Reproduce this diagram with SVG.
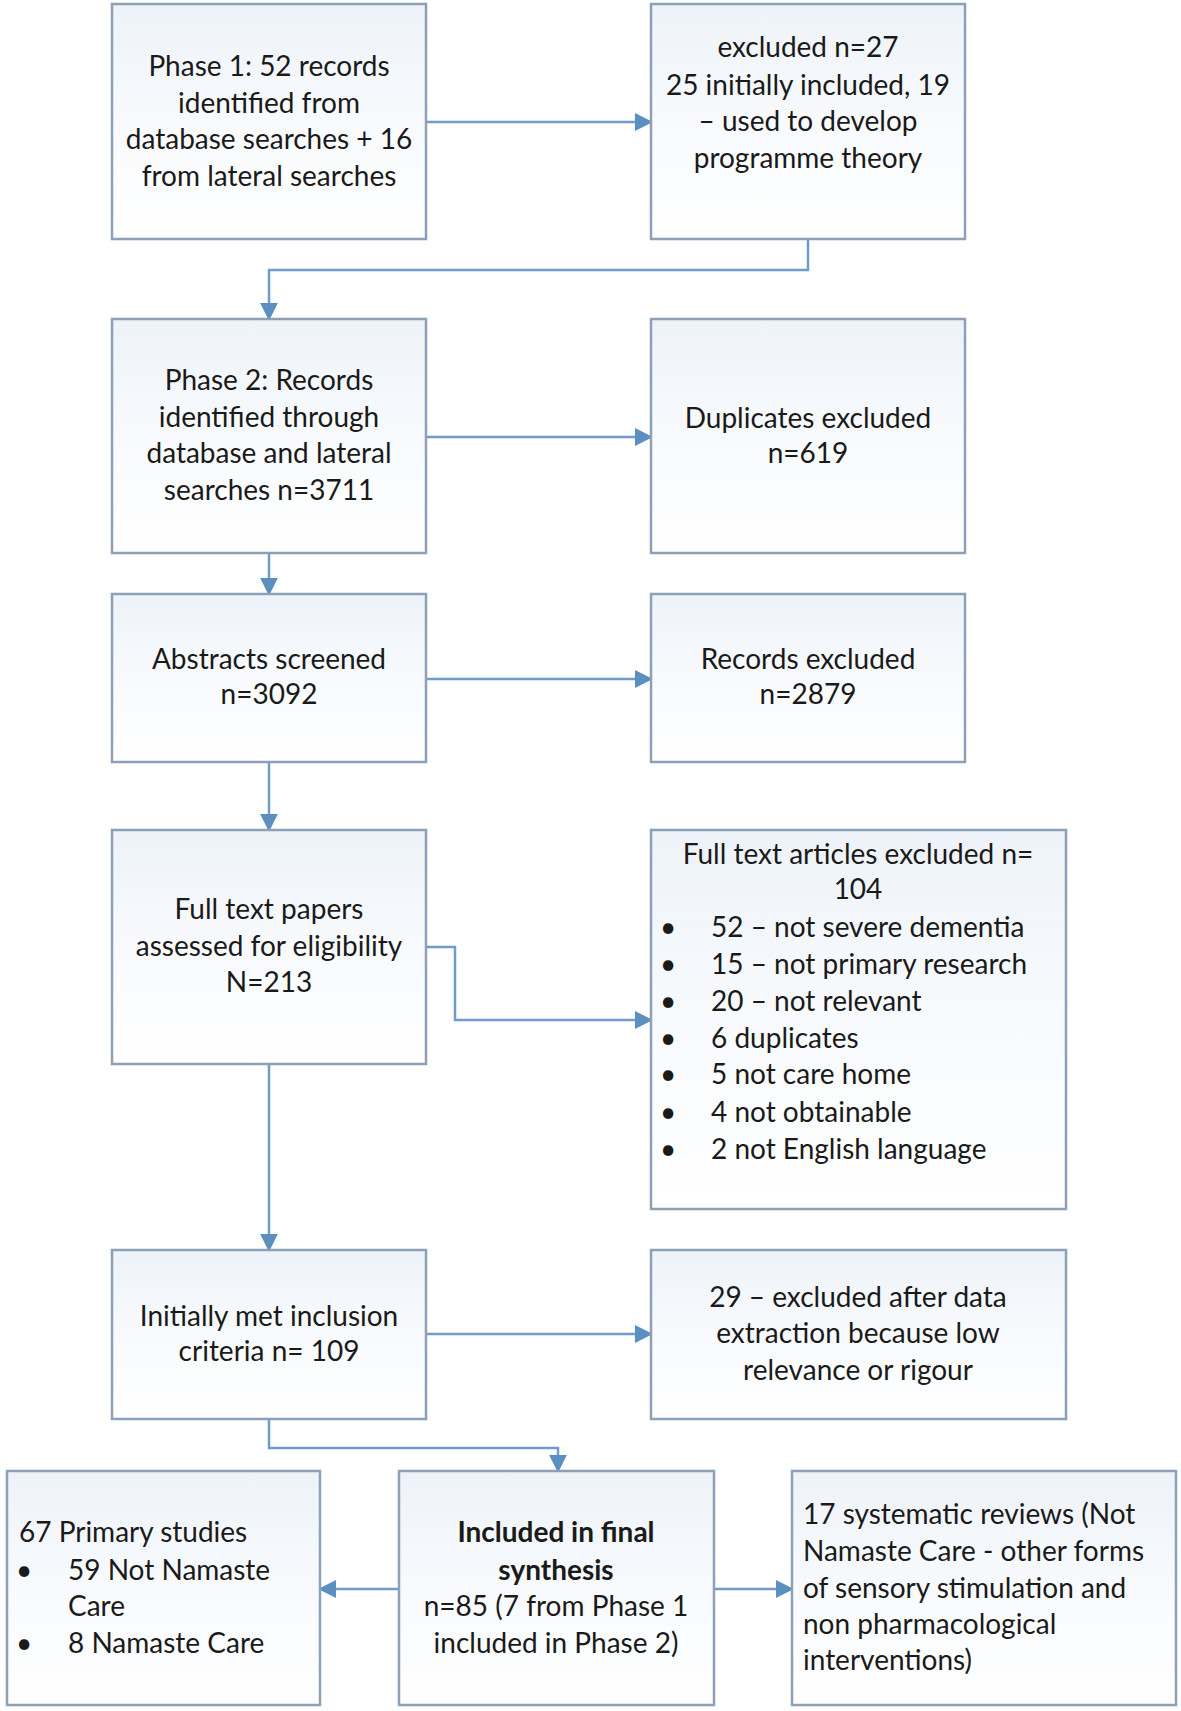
<svg xmlns="http://www.w3.org/2000/svg" width="1181" height="1711" viewBox="0 0 1181 1711">
<defs>
<linearGradient id="g" x1="0" y1="0" x2="0" y2="1">
<stop offset="0" stop-color="#eef3f9"/>
<stop offset="0.5" stop-color="#f8fafd"/>
<stop offset="1" stop-color="#ffffff"/>
</linearGradient>
<marker id="a" viewBox="0 0 10 10" refX="9" refY="5" markerWidth="18" markerHeight="18" markerUnits="userSpaceOnUse" orient="auto">
<path d="M0,0 L10,5 L0,10 z" fill="#5b8fc0"/>
</marker>
</defs>
<style>
.box{fill:url(#g);stroke:#8ca1b8;stroke-width:2.5}
.t{font-family:Lato,"Liberation Sans",sans-serif;font-size:28px;fill:#1a1a1a}
.c{text-anchor:middle}
.b{font-weight:bold}
.con{fill:none;stroke:#6f9ccb;stroke-width:2.5;marker-end:url(#a)}
</style>
<rect width="1181" height="1711" fill="#ffffff"/>
<g id="connectors">
<path class="con" d="M426,122 H651"/>
<path class="con" d="M808,239 V270 H269 V319"/>
<path class="con" d="M426,437 H651"/>
<path class="con" d="M269,553 V594"/>
<path class="con" d="M426,679 H651"/>
<path class="con" d="M269,762 V830"/>
<path class="con" d="M426,947 H455 V1020 H651"/>
<path class="con" d="M269,1064 V1250"/>
<path class="con" d="M426,1334 H651"/>
<path class="con" d="M269,1419 V1448 H558 V1471"/>
<path class="con" d="M399,1589 H320"/>
<path class="con" d="M714,1589 H792"/>
</g>
<g id="n1"><rect class="box" x="112" y="4" width="314" height="235"/>
<text class="t c"><tspan x="269" y="76">Phase 1: 52 records</tspan><tspan x="269" y="113">identified from</tspan><tspan x="269" y="149">database searches + 16</tspan><tspan x="269" y="186">from lateral searches</tspan></text></g>
<g id="n2"><rect class="box" x="651" y="4" width="314" height="235"/>
<text class="t c"><tspan x="808" y="57">excluded n=27</tspan><tspan x="808" y="95">25 initially included, 19</tspan><tspan x="808" y="131">– used to develop</tspan><tspan x="808" y="168">programme theory</tspan></text></g>
<g id="n3"><rect class="box" x="112" y="319" width="314" height="234"/>
<text class="t c"><tspan x="269" y="390">Phase 2: Records</tspan><tspan x="269" y="427">identified through</tspan><tspan x="269" y="463">database and lateral</tspan><tspan x="269" y="500">searches n=3711</tspan></text></g>
<g id="n4"><rect class="box" x="651" y="319" width="314" height="234"/>
<text class="t c"><tspan x="808" y="428">Duplicates excluded</tspan><tspan x="808" y="463">n=619</tspan></text></g>
<g id="n5"><rect class="box" x="112" y="594" width="314" height="168"/>
<text class="t c"><tspan x="269" y="669">Abstracts screened</tspan><tspan x="269" y="704">n=3092</tspan></text></g>
<g id="n6"><rect class="box" x="651" y="594" width="314" height="168"/>
<text class="t c"><tspan x="808" y="669">Records excluded</tspan><tspan x="808" y="704">n=2879</tspan></text></g>
<g id="n7"><rect class="box" x="112" y="830" width="314" height="234"/>
<text class="t c"><tspan x="269" y="919">Full text papers</tspan><tspan x="269" y="956">assessed for eligibility</tspan><tspan x="269" y="992">N=213</tspan></text></g>
<g id="n8"><rect class="box" x="651" y="830" width="415" height="379"/>
<text class="t c"><tspan x="858" y="864">Full text articles excluded n=</tspan><tspan x="858" y="899">104</tspan></text>
<text class="t"><tspan x="660" y="937">•</tspan><tspan x="711" y="937">52 – not severe dementia</tspan><tspan x="660" y="974">•</tspan><tspan x="711" y="974">15 – not primary research</tspan><tspan x="660" y="1011">•</tspan><tspan x="711" y="1011">20 – not relevant</tspan><tspan x="660" y="1048">•</tspan><tspan x="711" y="1048">6 duplicates</tspan><tspan x="660" y="1084">•</tspan><tspan x="711" y="1084">5 not care home</tspan><tspan x="660" y="1122">•</tspan><tspan x="711" y="1122">4 not obtainable</tspan><tspan x="660" y="1159">•</tspan><tspan x="711" y="1159">2 not English language</tspan></text></g>
<g id="n9"><rect class="box" x="112" y="1250" width="314" height="169"/>
<text class="t c"><tspan x="269" y="1326">Initially met inclusion</tspan><tspan x="269" y="1361">criteria n= 109</tspan></text></g>
<g id="n10"><rect class="box" x="651" y="1250" width="415" height="169"/>
<text class="t c"><tspan x="858" y="1307">29 – excluded after data</tspan><tspan x="858" y="1343">extraction because low</tspan><tspan x="858" y="1380">relevance or rigour</tspan></text></g>
<g id="n11"><rect class="box" x="7" y="1471" width="313" height="234"/>
<text class="t"><tspan x="19" y="1542">67 Primary studies</tspan><tspan x="16" y="1580">•</tspan><tspan x="68" y="1580">59 Not Namaste</tspan><tspan x="68" y="1616">Care</tspan><tspan x="16" y="1653">•</tspan><tspan x="68" y="1653">8 Namaste Care</tspan></text></g>
<g id="n12"><rect class="box" x="399" y="1471" width="315" height="234"/>
<text class="t c"><tspan class="b" x="556" y="1542">Included in final</tspan><tspan class="b" x="556" y="1580">synthesis</tspan><tspan x="556" y="1616">n=85 (7 from Phase 1</tspan><tspan x="556" y="1653">included in Phase 2)</tspan></text></g>
<g id="n13"><rect class="box" x="792" y="1471" width="384" height="234"/>
<text class="t"><tspan x="803" y="1524">17 systematic reviews (Not</tspan><tspan x="803" y="1561">Namaste Care - other forms</tspan><tspan x="803" y="1598">of sensory stimulation and</tspan><tspan x="803" y="1634">non pharmacological</tspan><tspan x="803" y="1670">interventions)</tspan></text></g>
</svg>
